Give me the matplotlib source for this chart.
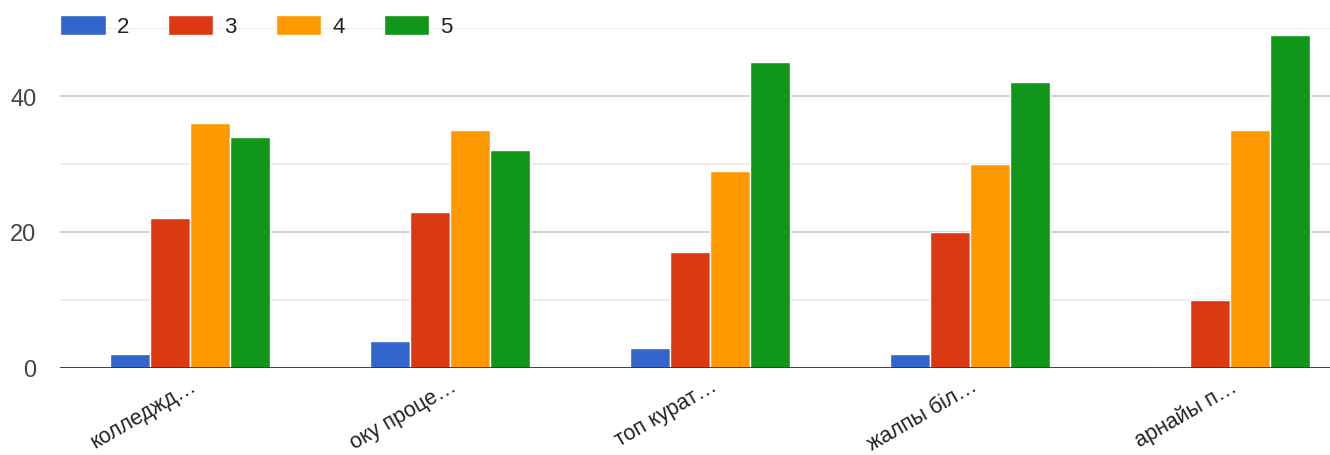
import matplotlib
matplotlib.use("Agg")
import matplotlib.pyplot as plt
import numpy as np

categories = ["колледжд…", "оку проце…", "топ курат…", "жалпы біл…", "арнайы п…"]
series_names = ["2", "3", "4", "5"]
s2 = [2, 4, 3, 2, 0]
s3 = [22, 23, 17, 20, 10]
s4 = [36, 35, 29, 30, 35]
s5 = [34, 32, 45, 42, 49]
colors = ["#3366cc", "#dc3912", "#ff9900", "#109618"]

plt.rcParams['font.family'] = ['Liberation Sans', 'DejaVu Sans']

W, H = 1330, 456
fig = plt.figure(figsize=(W / 100, H / 100), dpi=100)
ax_left, ax_bottom, ax_right, ax_top = 60, 369, 1360, 29
ax = fig.add_axes([ax_left / W, (H - ax_bottom) / H, (ax_right - ax_left) / W, (ax_bottom - ax_top) / H])

x = np.arange(len(categories))
bw = 0.154
data = [s2, s3, s4, s5]
handles = []
for i, (vals, c, name) in enumerate(zip(data, colors, series_names)):
    b = ax.bar(x + (i - 1.5) * bw, vals, width=bw, color=c, edgecolor="white", linewidth=1, label=name, zorder=3)
    handles.append(b)

ax.set_xlim(-0.5, len(categories) - 0.5)
ax.set_ylim(0, 50)
ax.set_yticks([0, 20, 40])
ax.set_yticks([10, 30, 50], minor=True)
ax.grid(axis="y", which="major", color="#cccccc", linewidth=1.3, zorder=0)
ax.grid(axis="y", which="minor", color="#ebebeb", linewidth=1.3, zorder=0)
ax.axhline(0, color="#333333", linewidth=2, zorder=4)
for s in ax.spines.values():
    s.set_visible(False)
ax.tick_params(axis="both", which="both", length=0)
ax.tick_params(axis="y", labelsize=17, labelcolor="#444444", pad=17)
ax.set_xticks(x)
ax.set_xticklabels(categories, rotation=30, ha="right", rotation_mode="anchor", fontsize=15.5, color="#222222")
ax.tick_params(axis="x", pad=5)

leg = fig.legend(handles=handles, labels=series_names, loc="center left",
                 bbox_to_anchor=(60 / W, 1 - 27 / H), ncol=4, frameon=False,
                 fontsize=16, handlelength=2.05, handleheight=1.0, handletextpad=0.5,
                 columnspacing=1.75, labelcolor="#222222", borderaxespad=0, borderpad=0)

fig.savefig("out.png", dpi=100)
